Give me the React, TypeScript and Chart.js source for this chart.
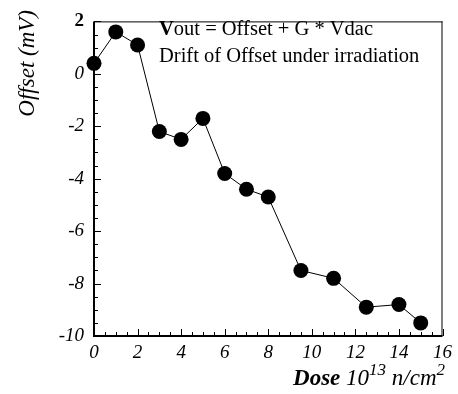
import { useEffect, useRef } from "react";
import { Chart, registerables } from "chart.js";

Chart.register(...registerables);

const doses = [0, 1, 2, 3, 4, 5, 6, 7, 8, 9.5, 11, 12.5, 14, 15];
const offsets = [0.4, 1.6, 1.1, -2.2, -2.5, -1.7, -3.8, -4.4, -4.7, -7.5, -7.8, -8.9, -8.8, -9.5];
const xTickValues = [0, 2, 4, 6, 8, 10, 12, 14, 16];
const yTickValues = [-10, -8, -6, -4, -2, 0, 2];
const yTitle = "Offset (mV)";
const legendLine1Bold = "V";
const legendLine1Rest = "out = Offset + G * Vdac";
const legendLine2 = "Drift of Offset under irradiation";

const SERIF = "'Liberation Serif', 'Times New Roman', serif";

const framePlugin = {
  id: "frame",
  beforeDatasetsDraw(chart: any) {
    const { ctx, chartArea: a, scales } = chart;
    const x = scales.x;
    const y = scales.y;
    ctx.save();
    ctx.strokeStyle = "#000";
    ctx.lineWidth = 1;
    ctx.beginPath();
    ctx.moveTo(a.left, a.top + 0.5);
    ctx.lineTo(a.right, a.top + 0.5);
    ctx.moveTo(a.right - 0.5, a.top);
    ctx.lineTo(a.right - 0.5, a.bottom);
    ctx.stroke();
    ctx.beginPath();
    for (let v = x.min; v <= x.max + 1e-9; v += 0.5) {
      const px = Math.round(x.getPixelForValue(v)) + 0.5;
      const len = Math.abs(v % 2) < 1e-9 ? 7 : 4;
      ctx.moveTo(px, a.bottom);
      ctx.lineTo(px, a.bottom - len);
    }
    for (let v = y.min; v <= y.max + 1e-9; v += 0.5) {
      const py = Math.round(y.getPixelForValue(v)) + 0.5;
      const len = Math.abs(v % 2) < 1e-9 ? 7 : 4;
      ctx.moveTo(a.left, py);
      ctx.lineTo(a.left + len, py);
    }
    ctx.stroke();
    ctx.lineWidth = 2;
    ctx.beginPath();
    ctx.moveTo(a.left, a.top);
    ctx.lineTo(a.left, a.bottom);
    ctx.lineTo(a.right, a.bottom);
    ctx.stroke();
    ctx.restore();
  },
  afterDraw(chart: any) {
    const { ctx, chartArea: a, scales } = chart;
    ctx.save();
    ctx.fillStyle = "#000";
    ctx.textBaseline = "alphabetic";
    ctx.textAlign = "left";

    // top y tick label (bold, upright in the original)
    const topVal = yTickValues[yTickValues.length - 1];
    ctx.font = `bold 19px ${SERIF}`;
    ctx.textAlign = "right";
    ctx.textBaseline = "middle";
    ctx.fillText(String(topVal), a.left - 10, scales.y.getPixelForValue(topVal));
    ctx.textAlign = "left";
    ctx.textBaseline = "alphabetic";

    // legend text
    ctx.font = `bold 20.5px ${SERIF}`;
    let lx = 159;
    ctx.fillText(legendLine1Bold, lx, 35);
    lx += ctx.measureText(legendLine1Bold).width;
    ctx.font = `20.5px ${SERIF}`;
    ctx.fillText(legendLine1Rest, lx, 35);
    ctx.fillText(legendLine2, 159, 62);

    // y title
    ctx.save();
    ctx.translate(34, 10);
    ctx.rotate(-Math.PI / 2);
    ctx.font = `italic 23px ${SERIF}`;
    ctx.textAlign = "right";
    ctx.fillText(yTitle, 0, 0);
    ctx.restore();

    // x title: Dose 10^13 n/cm^2 (right aligned)
    const parts: [string, string, number][] = [
      ["Dose ", `bold italic 23px ${SERIF}`, 0],
      ["10", `italic 23px ${SERIF}`, 0],
      ["13", `italic 17px ${SERIF}`, -10],
      [" n/cm", `italic 23px ${SERIF}`, 0],
      ["2", `italic 17px ${SERIF}`, -10],
    ];
    let total = 0;
    for (const [t, f] of parts) {
      ctx.font = f;
      total += ctx.measureText(t).width;
    }
    let tx = 445 - total;
    const base = 385;
    for (const [t, f, dy] of parts) {
      ctx.font = f;
      ctx.fillText(t, tx, base + dy);
      tx += ctx.measureText(t).width;
    }
    ctx.restore();
  },
};

export default function App() {
  const ref = useRef<HTMLCanvasElement | null>(null);
  useEffect(() => {
    document.body.style.margin = "0";
    if (!ref.current) return;
    const topVal = yTickValues[yTickValues.length - 1];
    const chart = new Chart(ref.current, {
      type: "line",
      data: {
        datasets: [
          {
            data: doses.map((d, i) => ({ x: d, y: offsets[i] })),
            borderColor: "#000",
            borderWidth: 1,
            backgroundColor: "#000",
            pointBackgroundColor: "#000",
            pointBorderColor: "#000",
            pointRadius: 7.5,
            pointBorderWidth: 0,
            tension: 0,
            clip: false,
          } as any,
        ],
      },
      options: {
        animation: false,
        responsive: false,
        events: [],
        layout: { padding: { top: 8, right: 13, left: 0, bottom: 0 }, autoPadding: false } as any,
        plugins: { legend: { display: false }, tooltip: { enabled: false } },
        scales: {
          x: {
            type: "linear",
            min: 0,
            max: 16,
            afterBuildTicks: (s: any) => {
              s.ticks = xTickValues.map((v) => ({ value: v }));
            },
            afterFit: (s: any) => {
              s.height = 58;
            },
            grid: { display: false, drawTicks: false },
            border: { display: false },
            ticks: {
              padding: 6,
              color: "#000",
              maxRotation: 0,
              autoSkip: false,
              font: { family: SERIF, size: 19, style: "italic" },
            },
          },
          y: {
            type: "linear",
            min: -10,
            max: 2,
            afterBuildTicks: (s: any) => {
              s.ticks = yTickValues.map((v) => ({ value: v }));
            },
            afterFit: (s: any) => {
              s.width = 94;
            },
            grid: { display: false, drawTicks: false },
            border: { display: false },
            ticks: {
              padding: 10,
              color: "#000",
              autoSkip: false,
              callback: (v: any) => (Number(v) === topVal ? "" : String(v)),
              font: { family: SERIF, size: 19, style: "italic" },
            },
          },
        },
      },
      plugins: [framePlugin],
    });
    return () => chart.destroy();
  }, []);
  return <canvas ref={ref} width={458} height={394} style={{ display: "block" }} />;
}
